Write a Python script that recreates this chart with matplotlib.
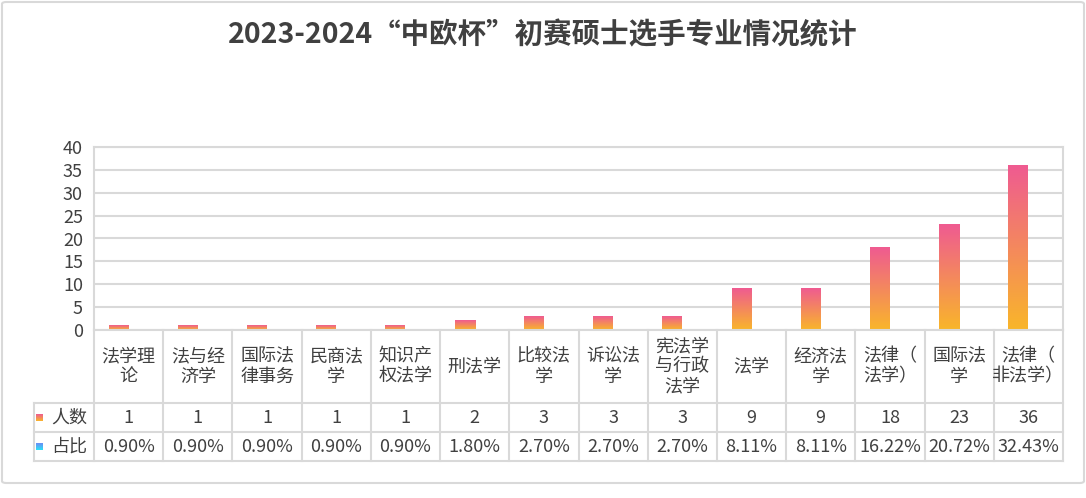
import numpy as np
import matplotlib
matplotlib.use('Agg')
import matplotlib.pyplot as plt
from matplotlib.patches import FancyBboxPatch
from matplotlib.colors import to_rgb

plt.rcParams['font.family'] = ['Noto Sans CJK SC', 'DejaVu Sans']

categories = ['法学理\n论', '法与经\n济学', '国际法\n律事务', '民商法\n学', '知识产\n权法学', '刑法学',
              '比较法\n学', '诉讼法\n学', '宪法学\n与行政\n法学', '法学', '经济法\n学',
              '法律（\n法学）', '国际法\n学', '法律（\n非法学）']
counts = [1, 1, 1, 1, 1, 2, 3, 3, 3, 9, 9, 18, 23, 36]
shares = [0.90, 0.90, 0.90, 0.90, 0.90, 1.80, 2.70, 2.70, 2.70, 8.11, 8.11, 16.22, 20.72, 32.43]
title = '2023-2024“中欧杯”初赛硕士选手专业情况统计'

W, H = 1086, 498
TXT = '#404040'
GRID = '#D9D9D9'
PINK, ORANGE = '#EF5B91', '#F9B62A'
BLUE_TOP, BLUE_BOT = '#6C8CF5', '#2BE3F6'


def grad(top, bottom, n=128):
    # row 0 = bottom colour
    t = np.linspace(0, 1, n)[:, None]
    c0, c1 = np.array(to_rgb(bottom)), np.array(to_rgb(top))
    return (c0 + (c1 - c0) * t)[:, None, :]


fig = plt.figure(figsize=(W / 100, H / 100), dpi=100)

# outer frame
fig.patches.append(FancyBboxPatch((2 / W, (H - 483) / H), 1082 / W, 481 / H,
                                  boxstyle='round,pad=0,rounding_size=0.004',
                                  transform=fig.transFigure, fill=False,
                                  edgecolor=GRID, linewidth=1.5))
fig.text(0.5, 1 - 35 / H, title, ha='center', va='center', fontsize=20.5,
         fontweight='bold', color=TXT)

# plot area
L, R, T, B = 94, 1063, 147, 330
ax = fig.add_axes([L / W, (H - B) / H, (R - L) / W, (B - T) / H])
n = len(categories)
x = np.arange(n)
bw = 20 / ((R - L) / n)
ax.set_yticks(range(0, 41, 5))
ax.set_xticks([])
ax.tick_params(axis='y', length=0, labelsize=13, labelcolor=TXT, pad=8)
ax.grid(axis='y', color=GRID, linewidth=1.5)
ax.set_axisbelow(True)
for s in ax.spines.values():
    s.set_color(GRID)
    s.set_linewidth(1.5)

bars1 = ax.bar(x - bw / 2, counts, width=bw, color='none', zorder=2)
bars2 = ax.bar(x + bw / 2, [v / 100 for v in shares], width=bw, color='#5BA8E0', zorder=2)
g1 = grad(PINK, ORANGE)
for p in bars1:
    x0, h = p.get_x(), p.get_height()
    ax.imshow(g1, extent=[x0, x0 + p.get_width(), 0, h], origin='lower',
              aspect='auto', zorder=2, interpolation='bilinear')
ax.set_xlim(-0.5, n - 0.5)
ax.set_ylim(0, 40)

# data table below
TB = 461
tax = fig.add_axes([L / W, (H - TB) / H, (R - L) / W, (TB - B) / H])
tax.axis('off')
colw = (R - L) / n


def px(v):
    return -0.5 + (v - L) / colw


xh = px(34)
r1, r2, r3 = 73, 102, 131
for k in range(n + 1):
    tax.plot([k - 0.5, k - 0.5], [0, r3], color=GRID, lw=1.5, clip_on=False)
tax.plot([xh, xh], [r1, r3], color=GRID, lw=1.5, clip_on=False)
for yy in (r1, r2, r3):
    tax.plot([xh, n - 0.5], [yy, yy], color=GRID, lw=1.5, clip_on=False)

for i in range(n):
    tax.text(i, r1 / 2, categories[i], ha='center', va='center', fontsize=13,
             color=TXT, linespacing=1.15)
    tax.text(i, (r1 + r2) / 2, str(counts[i]), ha='center', va='center',
             fontsize=13, color=TXT)
    tax.text(i, (r2 + r3) / 2, f'{shares[i]:.2f}%', ha='center', va='center',
             fontsize=13, color=TXT)

sq = 7 / colw
for (yc, label, gtop, gbot) in [((r1 + r2) / 2, '人数', PINK, ORANGE),
                                ((r2 + r3) / 2, '占比', BLUE_TOP, BLUE_BOT)]:
    # y axis is inverted: larger value is lower on screen
    tax.imshow(grad(gtop, gbot), extent=[px(36), px(36) + sq, yc + 3.5, yc - 3.5],
               origin='lower', aspect='auto', clip_on=False, interpolation='bilinear')
    tax.text(px(51), yc, label, ha='left', va='center', fontsize=13, color=TXT)
tax.set_xlim(-0.5, n - 0.5)
tax.set_ylim(TB - B, 0)

fig.savefig('out.png', dpi=100)
